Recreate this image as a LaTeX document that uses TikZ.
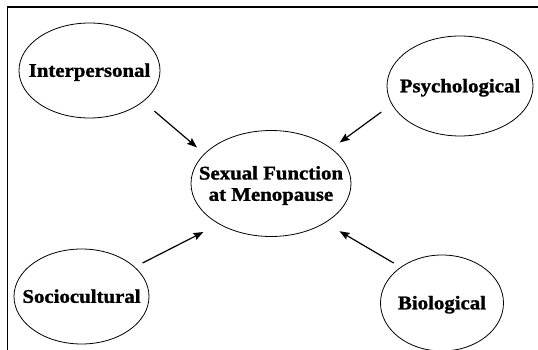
\documentclass[tikz,border=0pt]{standalone}
\usepackage{fontspec}
\setmainfont{Liberation Serif}[FakeStretch=1.08,BoldFeatures={FakeBold=1.3}]
\usetikzlibrary{shapes.geometric,arrows.meta}
\begin{document}
\begin{tikzpicture}[x=1pt,y=-1pt,
 oval/.style={draw,ellipse,inner sep=0pt,outer sep=0pt,line width=0.8pt},
 lbl/.style={font=\fontsize{19.3}{21.3}\selectfont\bfseries,inner sep=0pt,align=center},
 arr/.style={line width=1.2pt,-{Stealth[length=10pt,width=7.5pt,inset=1.5pt]}}]
\useasboundingbox (0,0) rectangle (538,350);
\draw[line width=1.5pt] (7.3,350) -- (7.3,6.8) -- (538,6.8);
\node[oval,minimum width=141pt,minimum height=95pt] (inter) at (89.5,70.5) {};
\node[oval,minimum width=146pt,minimum height=100pt] (psych) at (460,86) {};
\node[oval,minimum width=160pt,minimum height=106pt] (sexf) at (271,183.5) {};
\node[oval,minimum width=135pt,minimum height=95pt] (socio) at (81.5,296.5) {};
\node[oval,minimum width=123pt,minimum height=96pt] (bio) at (442,303) {};
\node[lbl,anchor=base] (intert) at ([yshift=-6.3pt]inter.center) {Interpersonal};
\node[lbl,anchor=base] (psycht) at ([yshift=-6.3pt]psych.center) {Psychological};
\node[lbl,anchor=base] (sociot) at ([yshift=-6.3pt]socio.center) {Sociocultural};
\node[lbl,anchor=base] (biot) at ([yshift=-6.3pt]bio.center) {Biological};
\node[lbl] (sexft) at ([yshift=-2pt]sexf.center) {Sexual Function\\at Menopause};
\draw[arr,shorten <=15pt,shorten >=10pt] (inter.-30.4) -- (sexf.156.6);
\draw[arr,shorten <=13.3pt,shorten >=10.4pt] (psych.-165.5) -- (sexf.30.7);
\draw[arr,shorten <=9pt,shorten >=17.8pt] (socio.29.7) -- (sexf.-142.9);
\draw[arr,shorten <=8.4pt,shorten >=16.9pt] (bio.139.9) -- (sexf.-36.4);
\end{tikzpicture}
\end{document}
